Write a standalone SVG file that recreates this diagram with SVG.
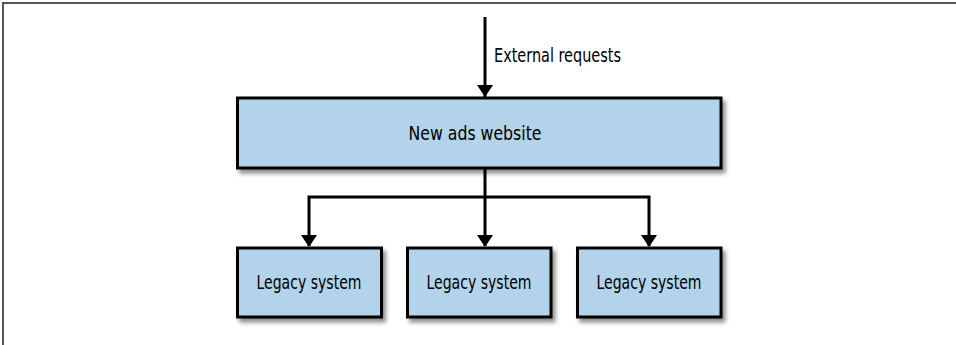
<svg xmlns="http://www.w3.org/2000/svg" width="956" height="345" viewBox="0 0 956 345">
<defs>
<filter id="sh" x="-10%" y="-20%" width="130%" height="150%">
<feDropShadow dx="3" dy="4" stdDeviation="2" flood-color="#000" flood-opacity="0.45"/>
</filter>
<style>
.box{fill:#b2d3e9;stroke:#000;stroke-width:3;filter:url(#sh)}
.lbl{font-family:"Liberation Sans Narrow","DejaVu Sans Condensed","Liberation Sans",sans-serif;font-size:20px;fill:#000;text-anchor:middle}
.conn{fill:none;stroke:#000;stroke-width:3}
.frame{stroke:#555;stroke-width:2;fill:none}
</style>
</defs>
<rect width="956" height="345" fill="#fff"/>
<path class="frame" d="M3,345 L3,3 L956,3"/>
<g id="connectors">
<path class="conn" d="M485,17 L485,97"/>
<path class="conn" d="M485,168 L485,246" />
<path class="conn" d="M309,246 L309,197 L649,197 L649,246"/>
<g fill="#000">
<path d="M477,85 L493,85 L485,97 Z"/>
<path d="M301,235 L317,235 L309,247 Z"/>
<path d="M477,235 L493,235 L485,247 Z"/>
<path d="M641,235 L657,235 L649,247 Z"/>
</g>
<text class="lbl" x="494" y="62" style="text-anchor:start" textLength="127" lengthAdjust="spacingAndGlyphs">External requests</text>
</g>
<g id="new-ads-website">
<rect class="box" x="237.5" y="98" width="483.5" height="70"/>
<text class="lbl" x="475" y="140" textLength="133" lengthAdjust="spacingAndGlyphs">New ads website</text>
</g>
<g id="legacy-1">
<rect class="box" x="237.5" y="248" width="144" height="69"/>
<text class="lbl" x="309" y="289" textLength="105" lengthAdjust="spacingAndGlyphs">Legacy system</text>
</g>
<g id="legacy-2">
<rect class="box" x="407.5" y="248" width="143.5" height="69"/>
<text class="lbl" x="479" y="289" textLength="105" lengthAdjust="spacingAndGlyphs">Legacy system</text>
</g>
<g id="legacy-3">
<rect class="box" x="577.5" y="248" width="143.5" height="69"/>
<text class="lbl" x="649" y="289" textLength="105" lengthAdjust="spacingAndGlyphs">Legacy system</text>
</g>
</svg>
